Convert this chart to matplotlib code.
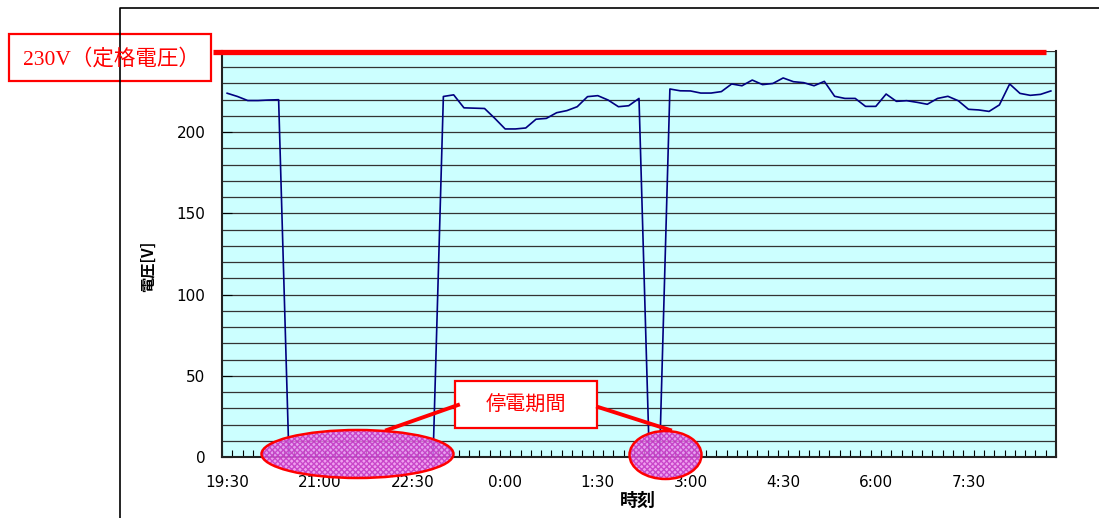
import numpy as np
import pandas as pd
import matplotlib
matplotlib.use("Agg")
import matplotlib.pyplot as plt
from matplotlib.patches import Ellipse, Rectangle

# 10分ごとの電圧 (19:30 - 8:50)
times = pd.date_range("2020-01-01 19:30", periods=81, freq="10min")
time_labels = [f"{t.hour}:{t.minute:02d}" for t in times]
voltage = [224, 222, 219.5, 219.5, 219.8, 220,
           0, 0, 0, 0, 0, 0, 0, 0, 0, 0, 0, 0, 0, 0, 0,
           222, 223, 215, 214.8, 214.6, 208.5, 202, 202, 202.6, 208,
           208.5, 212, 213.3, 215.7, 221.9, 222.5, 219.8, 215.7, 216.3, 220.8,
           0, 0,
           226.6, 225.5, 225.4, 224.1, 224.1, 225, 229.7, 228.6, 232.1, 229.3,
           230, 233.4, 231.1, 230.5, 228.6, 231.3, 222.1, 220.8, 220.8, 215.9,
           215.9, 223.5, 219, 219.4, 218.4, 217.2, 220.8, 222.1, 219.4, 214.1,
           213.7, 212.8, 216.8, 229.7, 223.9, 222.7, 223.3, 225.4]
label_every = 9
rated_text = "230V（定格電圧）"
outage_text = "停電期間"

W, H = 1099, 518
fig = plt.figure(figsize=(W / 100, H / 100), dpi=100)
ax = fig.add_axes([222 / W, (H - 457) / H, (1056 - 222) / W, (457 - 51) / H])

x = np.arange(len(voltage))
ax.set_facecolor("#ccffff")
ax.plot(x, voltage, color="#000080", lw=1.2, zorder=3)
ax.set_xlim(-0.5, len(voltage) - 0.5)
ax.set_ylim(0, 250)

# y軸 (250のラベルは注記枠の下に隠れている)
ax.set_yticks(range(0, 201, 50))
ax.set_yticks(range(0, 251, 10), minor=True)
ax.grid(True, which="both", axis="y", color="#333333", lw=0.9)
ax.set_axisbelow(True)
ax.tick_params(axis="y", which="major", direction="in", length=7, pad=12,
               labelsize=11)
ax.tick_params(axis="y", which="minor", length=0)

# x軸 (カテゴリ境界に目盛)
ax.set_xticks(np.arange(-0.5, len(voltage), 1), minor=True)
ax.set_xticks(x[::label_every])
ax.set_xticklabels(time_labels[::label_every])
ax.tick_params(axis="x", which="major", length=0, pad=13, labelsize=11)
ax.tick_params(axis="x", which="minor", direction="in", length=5, width=0.8)

for s in ["left", "bottom", "right"]:
    ax.spines[s].set_linewidth(1.5)
    ax.spines[s].set_color("#222222")
ax.spines["top"].set_visible(False)

ax.set_ylabel("電圧[V]", family=["Noto Sans CJK JP"], fontsize=11,
              fontweight="bold", va="center")
ax.yaxis.set_label_coords((148 - 222) / 834, (457 - 266) / 406)
ax.set_xlabel("時刻", family=["Noto Sans CJK JP"], fontsize=13,
              fontweight="bold", va="center")
ax.xaxis.set_label_coords((638 - 222) / 834, (457 - 500) / 406)

# 注記用のオーバーレイ (ピクセル座標)
ov = fig.add_axes([0, 0, 1, 1], zorder=5)
ov.set_xlim(0, W)
ov.set_ylim(H, 0)
ov.axis("off")
ov.patch.set_alpha(0)

# 外枠
ov.plot([120, 120, W], [H, 8, 8], color="black", lw=1.2)

# 定格電圧ライン
ov.plot([213, 1046], [52, 52], color="#ff0000", lw=3.8, solid_capstyle="butt")
ov.add_patch(Rectangle((9, 34), 202, 47, facecolor="white",
                       edgecolor="#ff0000", lw=1.6))
ov.text(111, 59, rated_text, color="#ff0000", fontsize=15.5,
        family=["Liberation Serif", "Noto Sans CJK JP"], ha="center", va="center")

# 停電期間の楕円
for cx, cy, ew, eh in [(357.5, 454, 192, 48), (665.5, 455, 72, 48)]:
    ov.add_patch(Ellipse((cx, cy), ew, eh, facecolor="#ec88ec", edgecolor="#c030c0",
                         lw=0, hatch="xxxxxx", alpha=0.8))
    ov.add_patch(Ellipse((cx, cy), ew, eh, facecolor="none",
                         edgecolor="#ff0000", lw=1.8))

ov.plot([458, 387], [405, 430], color="#ff0000", lw=2.8)
ov.plot([598, 670], [407, 430], color="#ff0000", lw=2.8)
ov.add_patch(Rectangle((455, 381), 142, 47, facecolor="white",
                       edgecolor="#ff0000", lw=1.6))
ov.text(526, 405, outage_text, color="#ff0000", fontsize=14.5,
        family=["Noto Sans CJK JP"], ha="center", va="center")

fig.savefig("out.png", dpi=100)
